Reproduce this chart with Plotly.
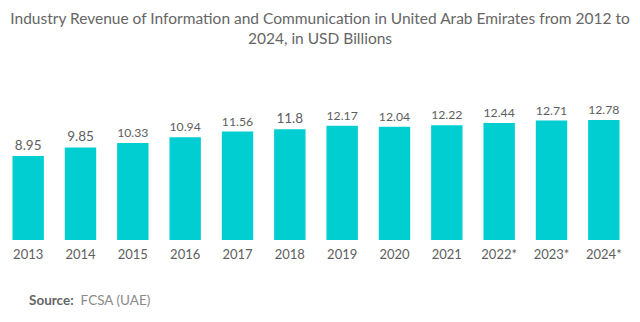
import plotly.graph_objects as go

years = ["2013", "2014", "2015", "2016", "2017", "2018", "2019", "2020", "2021", "2022*", "2023*", "2024*"]
revenue = [8.95, 9.85, 10.33, 10.94, 11.56, 11.8, 12.17, 12.04, 12.22, 12.44, 12.71, 12.78]
value_labels = ["8.95", "9.85", "10.33", "10.94", "11.56", "11.8", "12.17", "12.04", "12.22", "12.44", "12.71", "12.78"]

W, H = 640, 322
ML, MR, MT, MB = 2, 10, 100, 82
plot_w = W - ML - MR
plot_h = H - MT - MB

fig = go.Figure(
    go.Bar(
        x=years,
        y=revenue,
        text=value_labels,
        textposition="outside",
        textfont=dict(family="Lato", size=13.5, color="#5e5e5e", weight=400),
        cliponaxis=False,
        marker=dict(color="#00CED1", line=dict(width=0)),
        width=0.6,
    )
)

fig.update_layout(
    width=W,
    height=H,
    margin=dict(l=ML, r=MR, t=MT, b=MB),
    paper_bgcolor="white",
    plot_bgcolor="white",
    showlegend=False,
    title=dict(
        text="Industry Revenue of Information and Communication in United Arab Emirates from 2012 to<br>2024, in USD Billions",
        x=0.5,
        xanchor="center",
        y=0.925,
        yanchor="middle",
        font=dict(family="Lato", size=15.5, color="#666666", weight=400),
    ),
    xaxis=dict(
        showgrid=False,
        showline=False,
        zeroline=False,
        ticks="",
        ticklabelstandoff=5,
        tickfont=dict(family="Lato", size=13, color="#5e5e5e", weight=400),
    ),
    yaxis=dict(
        range=[0, 14.9],
        visible=False,
        showgrid=False,
        zeroline=False,
    ),
    annotations=[
        dict(
            text="<b>Source:</b>  <span style='color:#8a8a8a'>FCSA (UAE)</span>",
            x=(27 - ML) / plot_w,
            y=-(300 - (H - MB)) / plot_h,
            xref="paper",
            yref="paper",
            xanchor="left",
            yanchor="middle",
            showarrow=False,
            font=dict(family="Lato", size=13.5, color="#666666"),
        )
    ],
)

fig.write_html("out.html")
